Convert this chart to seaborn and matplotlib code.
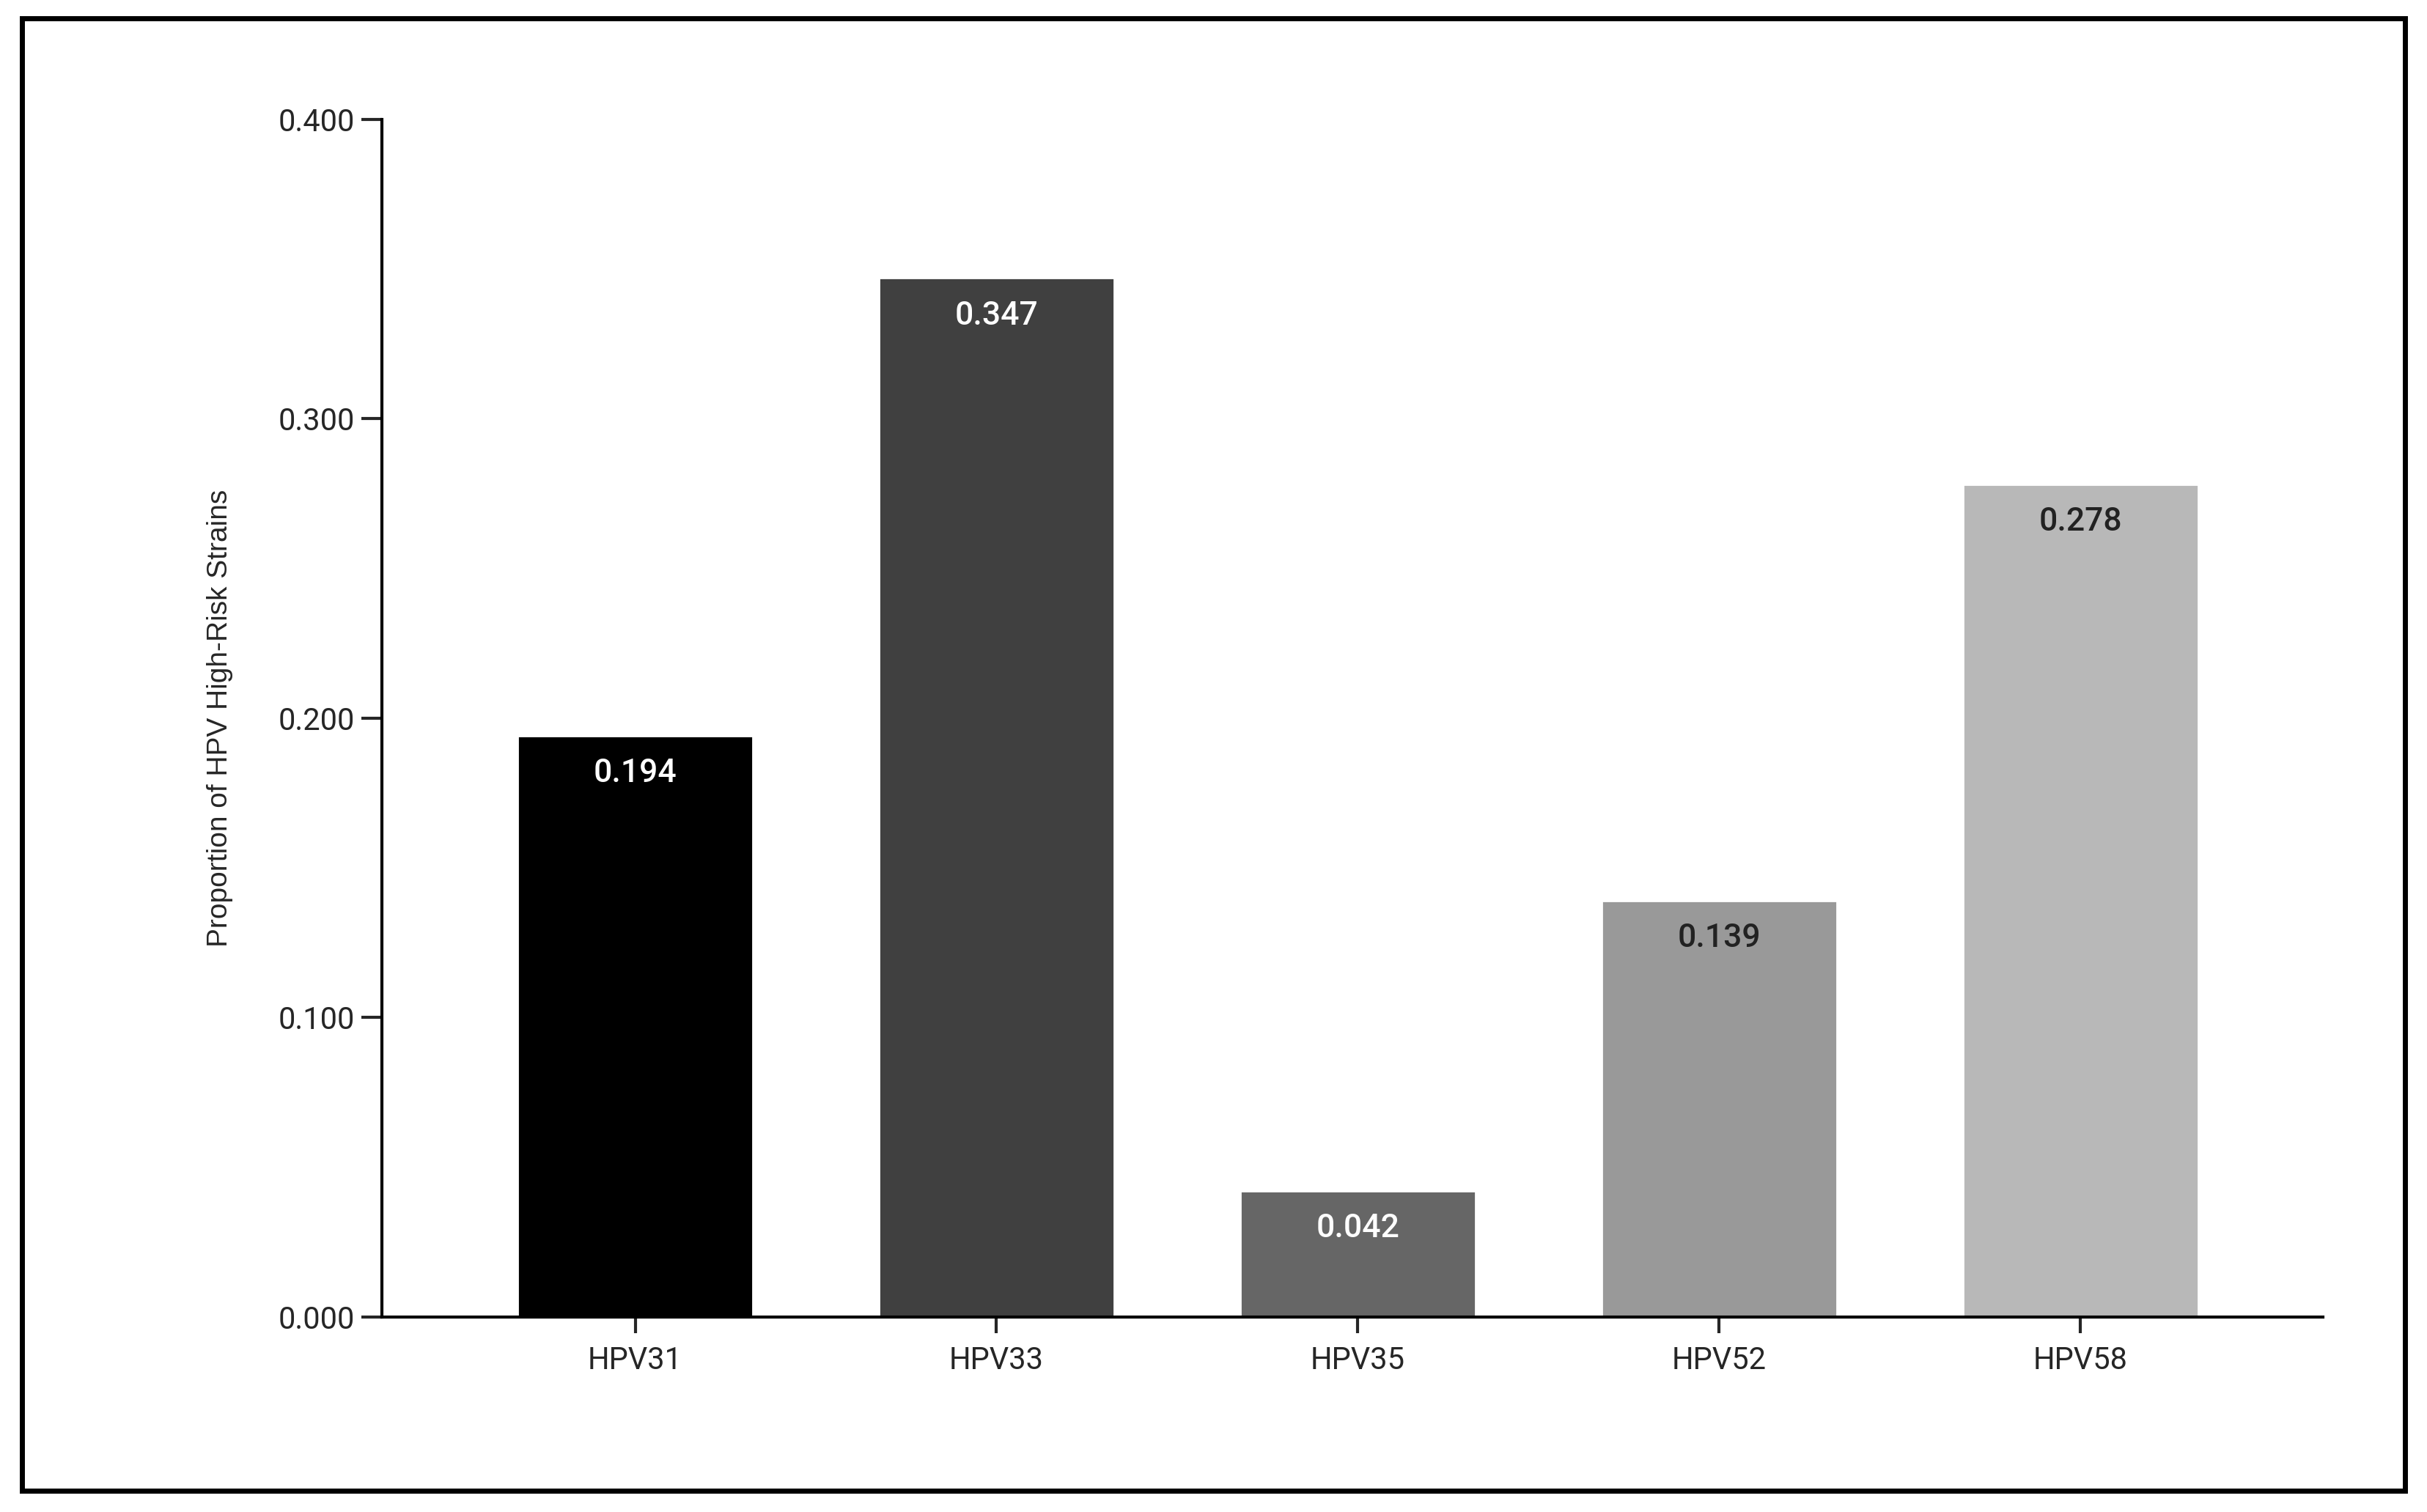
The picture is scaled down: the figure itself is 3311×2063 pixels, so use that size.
import matplotlib
matplotlib.use("Agg")
import matplotlib.pyplot as plt
import seaborn as sns
from matplotlib.patches import Rectangle

strains = ["HPV31", "HPV33", "HPV35", "HPV52", "HPV58"]
proportions = [0.194, 0.347, 0.042, 0.139, 0.278]
bar_colors = ["#000000", "#404040", "#666666", "#999999", "#b8b8b8"]
label_colors = ["white", "white", "white", "#222222", "#222222"]
y_ticks = [0.0, 0.1, 0.2, 0.3, 0.4]

sns.set_style("white")
plt.rcParams["font.family"] = ["Roboto", "DejaVu Sans"]

fig = plt.figure(figsize=(16.555, 10.315), dpi=200)
ax = fig.add_axes([0.1575, 0.129, 0.7995, 0.792])

sns.barplot(x=strains, y=proportions, hue=strains, palette=bar_colors,
            width=0.65, legend=False, ax=ax, saturation=1)

for i, (v, c) in enumerate(zip(proportions, label_colors)):
    ax.text(i, v - 0.0125, f"{v:.3f}", ha="center", va="center",
            fontsize=16, color=c, fontweight="medium")

ax.set_ylim(0, 0.4)
ax.set_xlim(-0.7, 4.67)
ax.set_yticks(y_ticks)
ax.set_yticklabels([f"{t:.3f}" for t in y_ticks], fontsize=15)
ax.tick_params(axis="x", labelsize=15, direction="inout", length=16, width=1.5, pad=6)
ax.tick_params(axis="y", direction="out", length=10, width=1.5, left=True)
ax.tick_params(axis="x", bottom=True)
sns.despine(ax=ax)
for s in ["left", "bottom"]:
    ax.spines[s].set_linewidth(1.5)
    ax.spines[s].set_color("black")
ax.set_ylabel("Proportion of HPV High-Risk Strains", fontsize=14,
              family="Liberation Sans", labelpad=22)

fig.patches.append(Rectangle((0.009, 0.014), 0.982, 0.974, transform=fig.transFigure,
                             fill=False, edgecolor="black", linewidth=2.5))

fig.savefig("out.png", dpi=200)
